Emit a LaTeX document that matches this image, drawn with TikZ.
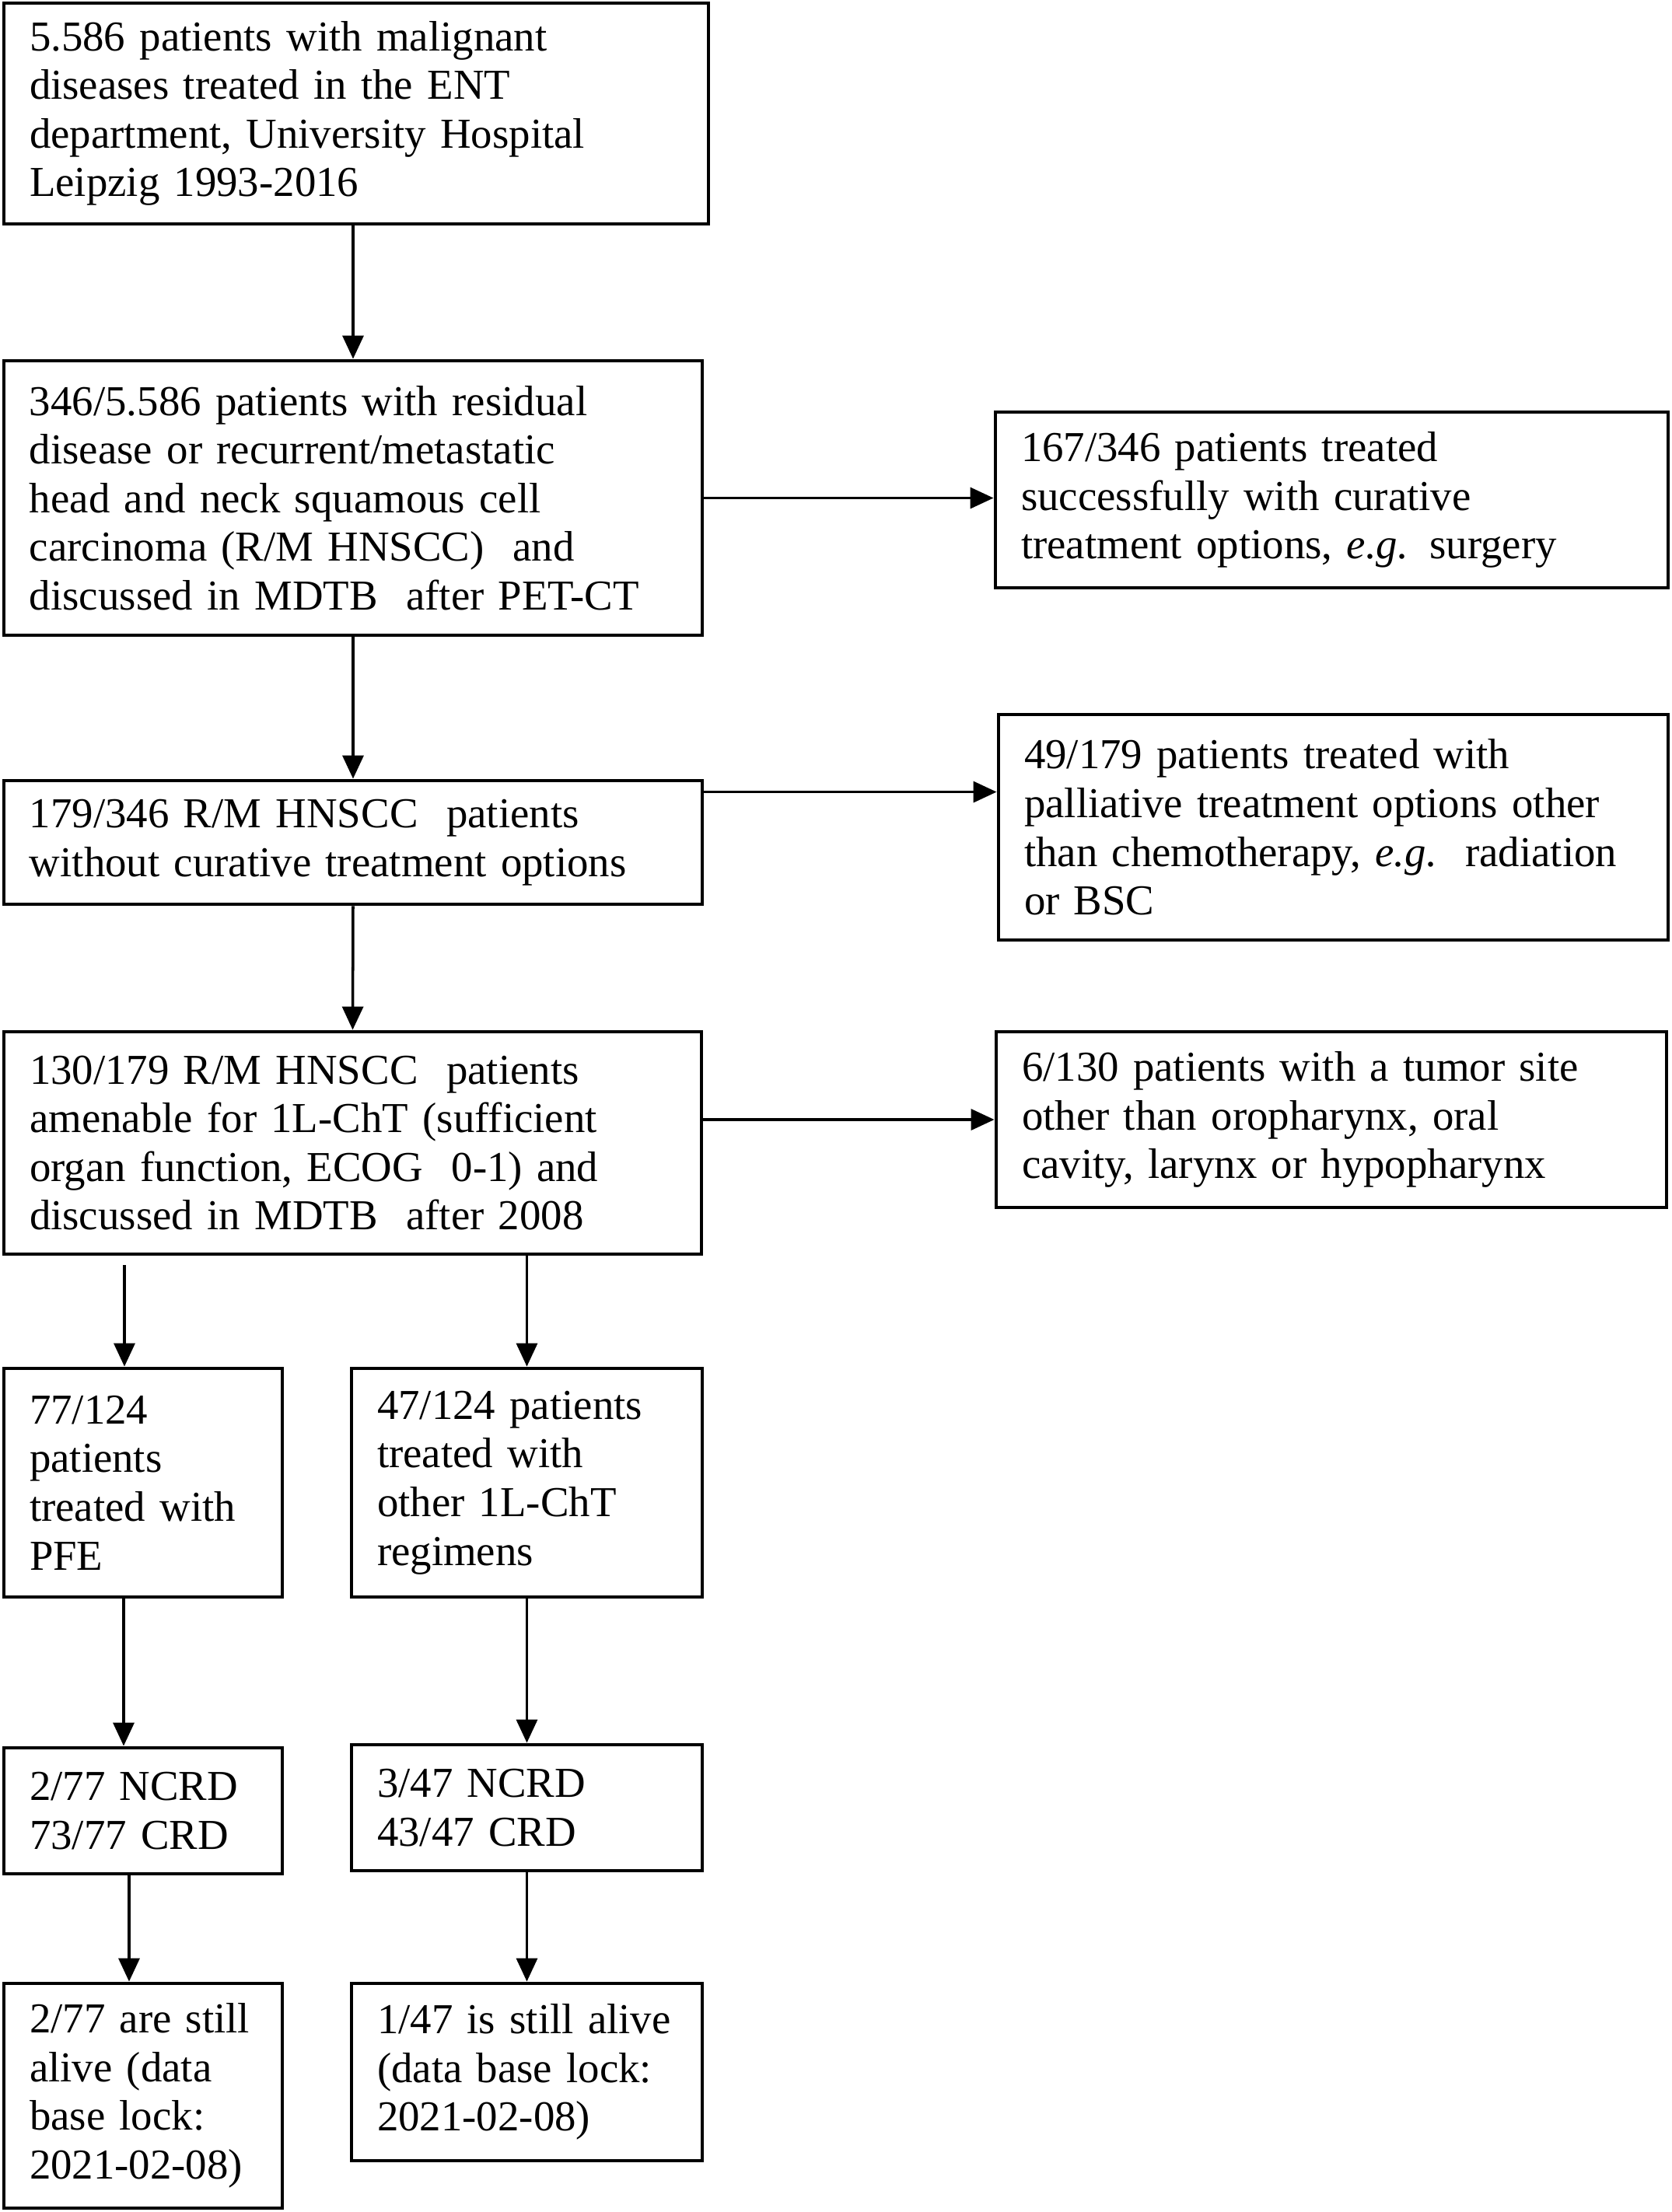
\documentclass[tikz,border=0pt]{standalone}
\usepackage{fontspec}
\setmainfont{Liberation Serif}
\usepackage{tikz}
\usetikzlibrary{calc}
\usetikzlibrary{arrows.meta}
\hyphenpenalty=10000

\begin{document}
\begin{tikzpicture}[
                    box/.style={draw, line width=1.4pt, rectangle, align=left,
                                inner xsep=0.33cm, inner ysep=0pt,
                                font=\fontsize{15.6}{17.8}\selectfont},
                    wide/.style={box, text width=8.32cm},
                    side/.style={box, text width=7.96cm, minimum height=2.26cm},
                    narrow/.style={box, text width=2.92cm},
                    mid/.style={box, text width=3.85cm},
                    arr/.style={-{Triangle[length=3mm, width=2.7mm]}, line width=1pt}
                   ]
                    \useasboundingbox (0,0) rectangle (21.5,-28.45);

                    \node[box, text width=8.4cm, minimum height=2.84cm] (top) at (4.58,-1.46)
                        {5.586 patients with malignant\\ diseases treated in the ENT\\ department, University Hospital\\ Leipzig 1993-2016};
                    \node[wide, minimum height=3.53cm] (resid) at (4.54,-6.405)
                        {346/5.586 patients with residual\\ disease or recurrent/metastatic\\ head and neck squamous cell\\ carcinoma (R/M HNSCC)\ \ and\\ discussed in MDTB\ \ after PET-CT};
                    \node[side, text width=7.99cm] (curative) at (17.125,-6.43)
                        {167/346 patients treated\\ successfully with curative\\ treatment options, \textit{e.g.} surgery};
                    \node[wide, minimum height=1.59cm] (nocur) at (4.54,-10.835)
                        {179/346 R/M HNSCC\ \ patients\\ without curative treatment options};
                    \node[box, text width=7.95cm, minimum height=2.90cm] (pall) at (17.145,-10.64)
                        {49/179 patients treated with\\ palliative treatment options other\\ than chemotherapy, \textit{e.g.}\ \ radiation\\ or BSC};
                    \node[box, text width=8.31cm, minimum height=2.86cm] (amen) at (4.535,-14.70)
                        {130/179 R/M HNSCC\ \ patients\\ amenable for 1L-ChT (sufficient\\ organ function, ECOG\ \ 0-1) and\\ discussed in MDTB\ \ after 2008};
                    \node[side] (site) at (17.12,-14.40)
                        {6/130 patients with a tumor site\\ other than oropharynx, oral\\ cavity, larynx or hypopharynx};

                    \node[narrow, minimum height=2.94cm] (pfe) at (1.84,-19.07)
                        {77/124\\ patients\\ treated with\\ PFE};
                    \node[mid, minimum height=2.94cm] (other) at (6.775,-19.07)
                        {47/124 patients\\ treated with\\ other 1L-ChT\\ regimens};
                    \node[narrow, minimum height=1.62cm] (pfecrd) at (1.84,-23.29)
                        {2/77 NCRD\\ 73/77 CRD};
                    \node[mid, minimum height=1.62cm] (othcrd) at (6.775,-23.25)
                        {3/47 NCRD\\ 43/47 CRD};
                    \node[narrow, minimum height=2.89cm] (pfealive) at (1.84,-26.955)
                        {2/77 are still\\ alive (data\\ base lock:\\ 2021-02-08)};
                    \node[mid, minimum height=2.28cm] (othalive) at (6.775,-26.65)
                        {1/47 is still alive\\ (data base lock:\\ 2021-02-08)};

                    \coordinate (nocurout) at ($(nocur.north east)+(0,-0.17)$);
                    \coordinate (pfein) at ($(pfe.north |- amen.south)+(-0.24,-0.12)$);
                    \coordinate (pfeout) at ($(pfe.south)+(-0.25,0)$);
                    \coordinate (crdout) at ($(pfecrd.south)+(-0.18,0)$);

                    \draw[arr] (resid.north |- top.south) -- (resid.north);
                    \draw[arr] (resid.east) -- (resid.east -| curative.west);
                    \draw[arr] (resid.south) -- (nocur.north);
                    \draw[arr] (nocurout) -- (nocurout -| pall.west);
                    \draw[arr] (nocur.south) -- (amen.north);
                    \draw[arr] (site.west -| amen.east) -- (site.west);
                    \draw[arr] (pfein) -- (pfein |- pfe.north);
                    \draw[arr] (other.north |- amen.south) -- (other.north);
                    \draw[arr] (pfeout) -- (pfeout |- pfecrd.north);
                    \draw[arr] (other.south) -- (othcrd.north);
                    \draw[arr] (crdout) -- (crdout |- pfealive.north);
                    \draw[arr] (othcrd.south) -- (othalive.north);
\end{tikzpicture}
\end{document}
